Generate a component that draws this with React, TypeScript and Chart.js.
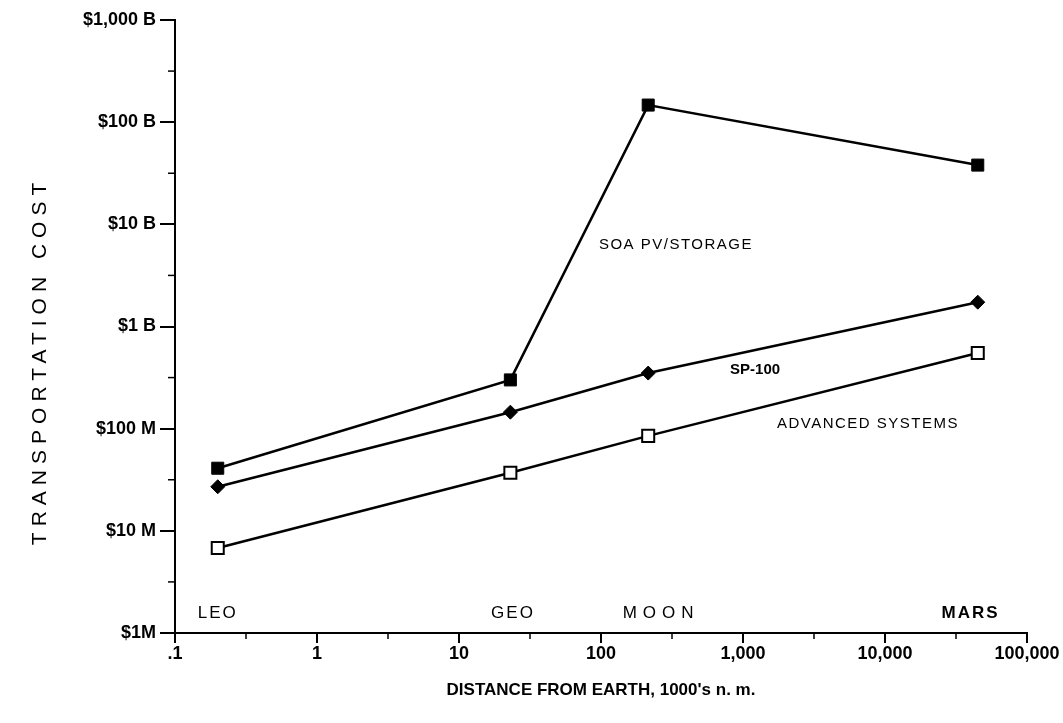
import React, { useEffect, useRef } from "react";
import { Chart, registerables } from "chart.js";

Chart.register(...registerables);

// Distance from Earth, 1000's of nautical miles
const distances = [0.2, 23, 215, 45000];
const locations = ["LEO", "GEO", "MOON", "MARS"];
const locationLabelX = [0.2, 24, 265, 40000];
const locationLabelY = 1.57e6;

// Transportation cost, $
const soaPvStorage = [41e6, 300e6, 147e9, 38e9];
const sp100 = [27e6, 145e6, 350e6, 1.73e9];
const advancedSystems = [6.8e6, 37e6, 85e6, 550e6];

const seriesLabels = ["SOA PV/STORAGE", "SP-100", "ADVANCED SYSTEMS"];
const seriesLabelX = [337, 1216, 7590];
const seriesLabelY = [6.25e9, 3.74e8, 1.11e8];

const xTickValues = [0.1, 1, 10, 100, 1000, 10000, 100000];
const xTickLabels = [".1", "1", "10", "100", "1,000", "10,000", "100,000"];
const yTickValues = [1e6, 1e7, 1e8, 1e9, 1e10, 1e11, 1e12];
const yTickLabels = ["$1M", "$10 M", "$100 M", "$1 B", "$10 B", "$100 B", "$1,000 B"];

const yTitle = "TRANSPORTATION COST";
const yTitleCenter = 4.6e8;
const xTitle = "DISTANCE FROM EARTH, 1000's n. m.";

const FONT = '"Liberation Sans", Arial, sans-serif';

function labelFor(values: number[], labels: string[], v: number): string {
  for (let i = 0; i < values.length; i++) {
    if (Math.abs(Math.log10(values[i]) - Math.log10(v)) < 1e-6) return labels[i];
  }
  return "";
}

const pts = (ys: number[]) => distances.map((x, i) => ({ x, y: ys[i] }));

const decorPlugin = {
  id: "decor",
  afterDraw(chart: any) {
    const ctx = chart.ctx as CanvasRenderingContext2D;
    const xs = chart.scales.x;
    const ys = chart.scales.y;
    const area = chart.chartArea;
    ctx.save();
    // minor half-decade ticks
    ctx.strokeStyle = "#000";
    ctx.lineWidth = 1.5;
    for (let i = 0; i < xTickValues.length - 1; i++) {
      const px = xs.getPixelForValue(xTickValues[i] * Math.sqrt(10));
      ctx.beginPath();
      ctx.moveTo(px, area.bottom);
      ctx.lineTo(px, area.bottom + 6);
      ctx.stroke();
    }
    for (let i = 0; i < yTickValues.length - 1; i++) {
      const py = ys.getPixelForValue(yTickValues[i] * Math.sqrt(10));
      ctx.beginPath();
      ctx.moveTo(area.left - 7, py);
      ctx.lineTo(area.left, py);
      ctx.stroke();
    }
    ctx.fillStyle = "#000";
    ctx.textBaseline = "middle";
    ctx.textAlign = "center";
    // series labels
    seriesLabels.forEach((t, i) => {
      const bold = i === 1;
      ctx.font = `${bold ? "bold " : ""}15px ${FONT}`;
      (ctx as any).letterSpacing = bold ? "0px" : "1.5px";
      ctx.fillText(t, xs.getPixelForValue(seriesLabelX[i]), ys.getPixelForValue(seriesLabelY[i]));
    });
    // location labels
    locations.forEach((t, i) => {
      const bold = t === "MARS";
      ctx.font = `${bold ? "bold " : ""}17px ${FONT}`;
      (ctx as any).letterSpacing = t === "MOON" ? "6px" : "2px";
      ctx.fillText(t, xs.getPixelForValue(locationLabelX[i]), ys.getPixelForValue(locationLabelY));
    });
    // y title
    ctx.font = `21px ${FONT}`;
    (ctx as any).letterSpacing = "6px";
    ctx.translate(40, ys.getPixelForValue(yTitleCenter));
    ctx.rotate(-Math.PI / 2);
    ctx.fillText(yTitle, 0, 0);
    ctx.restore();
  },
};

export default function App() {
  const ref = useRef<HTMLCanvasElement | null>(null);
  useEffect(() => {
    document.body.style.margin = "0";
    const canvas = ref.current;
    if (!canvas) return;
    const lineBase = {
      borderColor: "#000",
      borderWidth: 2.5,
      tension: 0,
      pointBorderColor: "#000",
      pointHoverRadius: 0,
    };
    const chart = new Chart(canvas, {
      type: "line",
      data: {
        datasets: [
          {
            ...lineBase,
            label: seriesLabels[0],
            data: pts(soaPvStorage),
            pointStyle: "rect",
            pointRadius: 8.5,
            pointBackgroundColor: "#000",
            pointBorderWidth: 1,
          },
          {
            ...lineBase,
            label: seriesLabels[1],
            data: pts(sp100),
            pointStyle: "rectRot",
            pointRadius: 7,
            pointBackgroundColor: "#000",
            pointBorderWidth: 1,
          },
          {
            ...lineBase,
            label: seriesLabels[2],
            data: pts(advancedSystems),
            pointStyle: "rect",
            pointRadius: 8.5,
            pointBackgroundColor: "#fff",
            pointBorderWidth: 2,
          },
        ],
      },
      options: {
        animation: false,
        responsive: false,
        maintainAspectRatio: false,
        layout: { padding: { top: 20, right: 36, left: 0, bottom: 0 } },
        plugins: { legend: { display: false }, tooltip: { enabled: false } },
        events: [],
        scales: {
          x: {
            type: "logarithmic",
            min: 0.1,
            max: 100000,
            afterBuildTicks: (s: any) => {
              s.ticks = xTickValues.map((v) => ({ value: v }));
            },
            afterFit: (s: any) => {
              s.height = 90;
            },
            ticks: {
              autoSkip: false,
              maxRotation: 0,
              color: "#000",
              padding: 0,
              font: { family: FONT, size: 18, weight: "bold" },
              callback: (v: any) => labelFor(xTickValues, xTickLabels, Number(v)),
            },
            grid: { drawOnChartArea: false, drawTicks: true, tickLength: 10, color: "#000", lineWidth: 2 },
            border: { color: "#000", width: 2 },
            title: {
              display: true,
              text: xTitle,
              color: "#000",
              font: { family: FONT, size: 17, weight: "bold" },
              padding: { top: 8, bottom: 22 },
            },
          },
          y: {
            type: "logarithmic",
            min: 1e6,
            max: 1e12,
            afterBuildTicks: (s: any) => {
              s.ticks = yTickValues.map((v) => ({ value: v }));
            },
            afterFit: (s: any) => {
              s.width = 175;
            },
            ticks: {
              autoSkip: false,
              color: "#000",
              padding: 4,
              font: { family: FONT, size: 18, weight: "bold" },
              callback: (v: any) => labelFor(yTickValues, yTickLabels, Number(v)),
            },
            grid: { drawOnChartArea: false, drawTicks: true, tickLength: 15, color: "#000", lineWidth: 2 },
            border: { color: "#000", width: 2 },
          },
        },
      } as any,
      plugins: [decorPlugin],
    });
    return () => chart.destroy();
  }, []);
  return (
    <div style={{ width: 1063, height: 723, background: "#fff" }}>
      <canvas ref={ref} width={1063} height={723} style={{ display: "block" }} />
    </div>
  );
}
